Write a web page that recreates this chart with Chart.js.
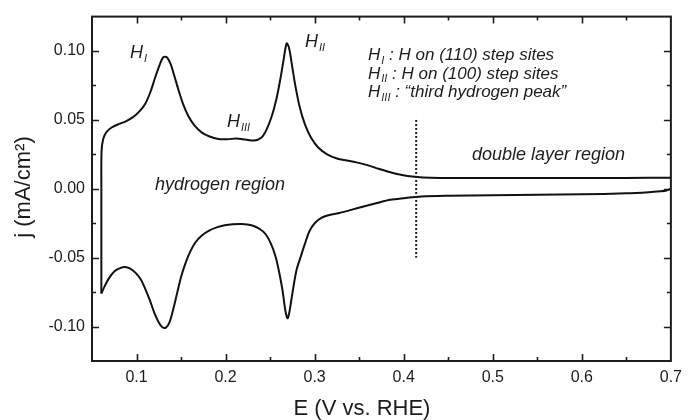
<!DOCTYPE html>
<html>
<head>
<meta charset="utf-8">
<script src="https://cdn.jsdelivr.net/npm/chart.js@4.4.1/dist/chart.umd.min.js"></script>
<style>
  html, body { margin: 0; padding: 0; background: #fff; }
  #wrap { width: 689px; height: 420px; }
</style>
</head>
<body>
<div id="wrap"><canvas id="cv"></canvas></div>
<script>
// anodic sweep (upper branch), E in V vs RHE, j in mA/cm2
const anodicE = [0.0605, 0.0605, 0.0605, 0.0607, 0.0625, 0.066, 0.072, 0.080, 0.088, 0.096, 0.103, 0.110, 0.116, 0.121, 0.126, 0.130, 0.134, 0.138, 0.142, 0.147, 0.152, 0.158, 0.165, 0.173, 0.182, 0.192, 0.202, 0.212, 0.222, 0.232, 0.240, 0.246, 0.252, 0.257, 0.261, 0.265, 0.2685, 0.271, 0.274, 0.278, 0.283, 0.289, 0.296, 0.304, 0.314, 0.325, 0.336, 0.348, 0.360, 0.372, 0.385, 0.398, 0.412, 0.430, 0.46, 0.50, 0.55, 0.60, 0.65, 0.70];
const anodicJ = [-0.076, -0.03, 0.0, 0.027, 0.036, 0.041, 0.0445, 0.047, 0.049, 0.052, 0.056, 0.062, 0.071, 0.081, 0.090, 0.0955, 0.0955, 0.091, 0.083, 0.072, 0.062, 0.053, 0.046, 0.041, 0.038, 0.0362, 0.036, 0.0365, 0.0358, 0.035, 0.037, 0.043, 0.053, 0.065, 0.078, 0.093, 0.1055, 0.103, 0.092, 0.076, 0.060, 0.047, 0.037, 0.030, 0.025, 0.022, 0.0205, 0.019, 0.017, 0.0145, 0.012, 0.010, 0.0088, 0.008, 0.0078, 0.0079, 0.0078, 0.0078, 0.0079, 0.008];

// cathodic sweep (lower branch)
const cathodicE = [0.700, 0.695, 0.688, 0.675, 0.650, 0.60, 0.55, 0.50, 0.45, 0.42, 0.40, 0.385, 0.370, 0.355, 0.340, 0.328, 0.318, 0.308, 0.300, 0.294, 0.289, 0.284, 0.280, 0.277, 0.274, 0.2715, 0.2695, 0.267, 0.264, 0.260, 0.256, 0.251, 0.245, 0.238, 0.229, 0.218, 0.208, 0.199, 0.190, 0.181, 0.173, 0.166, 0.160, 0.155, 0.150, 0.1455, 0.141, 0.137, 0.133, 0.129, 0.125, 0.120, 0.115, 0.110, 0.105, 0.099, 0.093, 0.087, 0.081, 0.075, 0.069, 0.064, 0.0605];
const cathodicJ = [0.000, -0.0012, -0.0018, -0.0025, -0.0033, -0.0040, -0.0044, -0.0047, -0.0050, -0.0055, -0.0068, -0.0080, -0.0103, -0.0128, -0.0155, -0.0175, -0.0188, -0.021, -0.025, -0.031, -0.040, -0.050, -0.058, -0.068, -0.080, -0.090, -0.094, -0.088, -0.074, -0.060, -0.049, -0.040, -0.033, -0.029, -0.0265, -0.0256, -0.0258, -0.0265, -0.028, -0.0305, -0.034, -0.039, -0.046, -0.054, -0.064, -0.076, -0.088, -0.097, -0.1008, -0.1005, -0.097, -0.090, -0.081, -0.073, -0.066, -0.061, -0.058, -0.0568, -0.0578, -0.060, -0.065, -0.071, -0.076];

const xTicks = [0.1, 0.2, 0.3, 0.4, 0.5, 0.6, 0.7];
const yTicks = [-0.10, -0.05, 0.00, 0.05, 0.10];
const dividerE = 0.414;
const dividerJ = [-0.05, 0.05];

const FONT = 'Arial, "Liberation Sans", sans-serif';
const INK = '#1c1c1c';

const toPoints = (xs, ys) => xs.map((x, i) => ({ x: x, y: ys[i] }));

// H with roman-numeral subscript, returns end x
function drawH(ctx, x, y, sub, size) {
    ctx.font = 'italic ' + size + 'px ' + FONT;
    ctx.fillText('H', x, y);
    const w = ctx.measureText('H').width;
    const subSize = Math.round(size * 0.62);
    ctx.font = 'italic ' + subSize + 'px ' + FONT;
    ctx.fillText(sub, x + w + 1, y + size * 0.22);
    return x + w + 1 + ctx.measureText(sub).width;
}

const framePlugin = {
    id: 'frame',
    afterDraw(chart) {
        const ctx = chart.ctx;
        const a = chart.chartArea;
        const xs = chart.scales.x;
        const ys = chart.scales.y;
        ctx.save();
        ctx.strokeStyle = INK;
        ctx.fillStyle = INK;

        // inward ticks on all four sides
        ctx.lineWidth = 1.6;
        ctx.beginPath();
        for (let k = 1; k < 13; k++) {
            const v = 0.05 + k * 0.05;
            const px = Math.round(xs.getPixelForValue(v)) + 0.5;
            const len = k % 2 === 1 ? 7 : 4;
            ctx.moveTo(px, a.bottom); ctx.lineTo(px, a.bottom - len);
            ctx.moveTo(px, a.top); ctx.lineTo(px, a.top + len);
        }
        for (let k = 1; k < 10; k++) {
            const v = -0.125 + k * 0.025;
            const py = Math.round(ys.getPixelForValue(v)) + 0.5;
            const len = k % 2 === 1 ? 7 : 4;
            ctx.moveTo(a.left, py); ctx.lineTo(a.left + len, py);
            ctx.moveTo(a.right, py); ctx.lineTo(a.right - len, py);
        }
        ctx.stroke();

        // frame
        ctx.lineWidth = 2;
        ctx.strokeRect(a.left, a.top, a.right - a.left, a.bottom - a.top);

        // dotted divider between regions
        const dx = xs.getPixelForValue(dividerE);
        ctx.setLineDash([2, 2]);
        ctx.lineWidth = 2;
        ctx.beginPath();
        ctx.moveTo(dx, ys.getPixelForValue(dividerJ[1]));
        ctx.lineTo(dx, ys.getPixelForValue(dividerJ[0]));
        ctx.stroke();
        ctx.setLineDash([]);

        // peak labels
        ctx.textBaseline = 'alphabetic';
        ctx.textAlign = 'left';
        drawH(ctx, 130, 58, 'I', 18);
        drawH(ctx, 305, 47, 'II', 18);
        drawH(ctx, 227, 127, 'III', 18);

        // legend of peak assignments
        const legend = [['I', ' : H on (110) step sites'], ['II', ' : H on (100) step sites'], ['III', ' : \u201cthird hydrogen peak\u201d']];
        legend.forEach((row, i) => {
            const y = 60 + i * 18.5;
            const end = drawH(ctx, 368, y, row[0], 17);
            ctx.font = 'italic 17px ' + FONT;
            ctx.fillText(row[1], end, y);
        });

        ctx.font = 'italic 18px ' + FONT;
        ctx.fillText('hydrogen region', 155, 190);
        ctx.fillText('double layer region', 472, 160);

        // axis titles
        ctx.font = '22px ' + FONT;
        ctx.textAlign = 'center';
        ctx.textBaseline = 'middle';
        ctx.fillText('E (V vs. RHE)', 362, 409);
        ctx.translate(24, 187);
        ctx.rotate(-Math.PI / 2);
        ctx.fillText('j (mA/cm\u00b2)', 0, 0);
        ctx.restore();
    }
};

new Chart(document.getElementById('cv'), {
    type: 'scatter',
    data: {
        datasets: [
            {
                label: 'cathodic',
                data: toPoints(cathodicE, cathodicJ),
                showLine: true,
                borderColor: '#111',
                borderWidth: 2,
                pointRadius: 0,
                tension: 0.3
            },
            {
                label: 'anodic',
                data: toPoints(anodicE, anodicJ),
                showLine: true,
                borderColor: '#111',
                borderWidth: 2,
                pointRadius: 0,
                tension: 0.3
            }
        ]
    },
    options: {
        responsive: true,
        maintainAspectRatio: false,
        animation: false,
        layout: { padding: { top: 14, right: 11, left: 0, bottom: 0 } },
        plugins: {
            legend: { display: false },
            tooltip: { enabled: false }
        },
        scales: {
            x: {
                type: 'linear',
                min: 0.05,
                max: 0.7,
                afterBuildTicks: (scale) => { scale.ticks = xTicks.map(v => ({ value: v })); },
                afterFit: (scale) => { scale.height = 59; },
                ticks: {
                    callback: (v) => Number(v).toFixed(1),
                    font: { size: 16, family: FONT },
                    color: INK,
                    padding: 7,
                    maxRotation: 0,
                    autoSkip: false
                },
                grid: { display: false, drawTicks: false },
                border: { display: false }
            },
            y: {
                min: -0.125,
                max: 0.125,
                afterBuildTicks: (scale) => { scale.ticks = yTicks.map(v => ({ value: v })); },
                afterFit: (scale) => { scale.width = 92; },
                ticks: {
                    callback: (v) => Number(v).toFixed(2),
                    font: { size: 16, family: FONT },
                    color: INK,
                    padding: 7,
                    autoSkip: false
                },
                grid: { display: false, drawTicks: false },
                border: { display: false }
            }
        }
    },
    plugins: [framePlugin]
});
</script>
</body>
</html>
